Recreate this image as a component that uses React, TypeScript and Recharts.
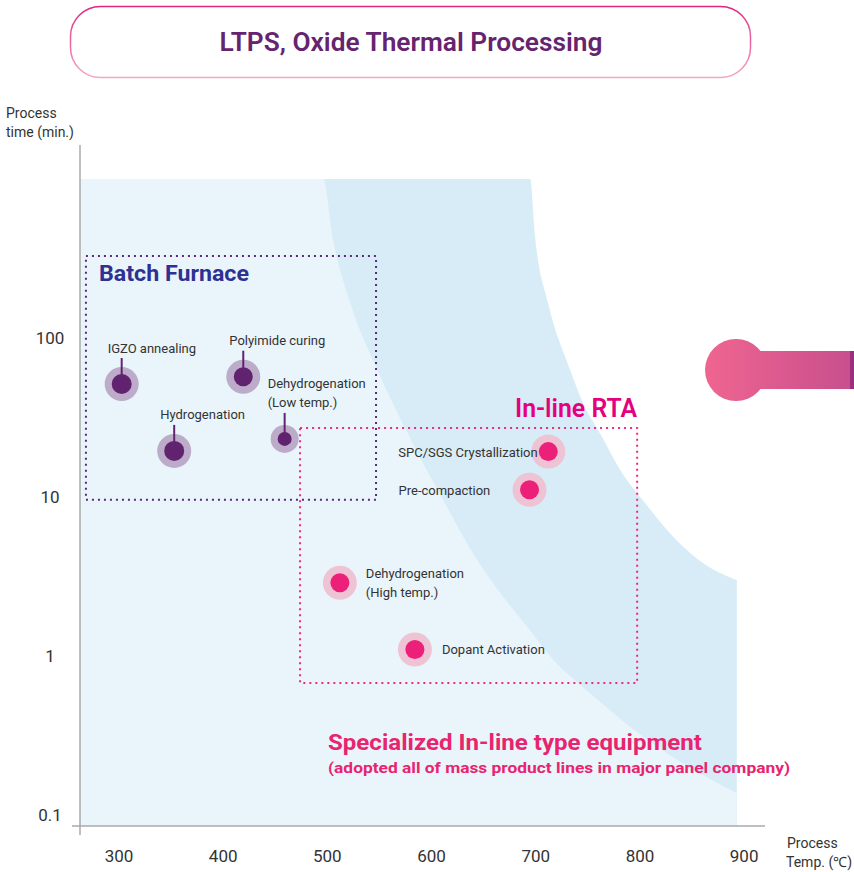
import React from "react";
import { ComposedChart, Area, Scatter, XAxis, YAxis, ReferenceArea } from "recharts";

// axes
const xTicks = [300, 400, 500, 600, 700, 800, 900];
const yTicks = [0.1, 1, 10, 100];
const X_MIN = 262.6;
const X_MAX = 920;
const Y_MIN = 0.0853;
const Y_MAX = 1637;
const AREA_TOP = 1000;

// batch furnace processes (temp in C, time in min)
const batchNames = ["IGZO annealing", "Polyimide curing", "Hydrogenation", "Dehydrogenation\n(Low temp.)"];
const batchTemps = [302.6, 419.3, 353, 459];
const batchTimes = [51.4, 57.1, 19.5, 23.2];

// in-line RTA processes
const rtaNames = ["SPC/SGS Crystallization", "Pre-compaction", "Dehydrogenation\n(High temp.)", "Dopant Activation"];
const rtaTemps = [712, 694, 512, 584];
const rtaTimes = [19.3, 11.1, 2.89, 1.1];

// region edges
const outerEdgeTemps = [694.6, 699.4, 711.8, 733, 745.4, 763.7, 781, 805, 829, 867, 893];
const outerEdgeTimes = [1000, 431, 166, 63, 39, 23.8, 14.8, 9.16, 5.9, 3.6, 3.0];
const innerEdgeTemps = [496, 505, 522, 548, 579, 611, 644, 666, 692, 717, 752, 791, 836, 893];
const innerEdgeTimes = [1000, 431, 166, 63, 23.8, 9.6, 4.0, 2.49, 1.52, 0.944, 0.585, 0.357, 0.222, 0.137];

// boxes
const batchBox = { t1: 268.3, t2: 546.7, m1: 9.6, m2: 328 };
const rtaBox = { t1: 473.8, t2: 797.3, m1: 0.676, m2: 27.2 };

const bandData = [
  { t: X_MIN, v: [Y_MIN, AREA_TOP] },
  ...outerEdgeTemps.map((t, i) => ({ t, v: [Y_MIN, outerEdgeTimes[i]] })),
];
const lowerData = [
  { t: X_MIN, v: [Y_MIN, AREA_TOP] },
  ...innerEdgeTemps.map((t, i) => ({ t, v: [Y_MIN, innerEdgeTimes[i]] })),
];
const batchData = batchNames.map((name, i) => ({ name, t: batchTemps[i], v: batchTimes[i] }));
const rtaData = rtaNames.map((name, i) => ({ name, t: rtaTemps[i], v: rtaTimes[i] }));

const FONT = "Roboto, 'Open Sans', sans-serif";

// label placement for each marker
const markerLayout: Record<string, { dx: number; dy: number; halo: number; dot: number }> = {
  "IGZO annealing": { dx: -14, dy: -36, halo: 17, dot: 10 },
  "Polyimide curing": { dx: -14, dy: -37, halo: 17, dot: 9.5 },
  Hydrogenation: { dx: -14, dy: -37, halo: 17, dot: 10 },
  "Dehydrogenation\n(Low temp.)": { dx: -17, dy: -56, halo: 14, dot: 7 },
  "SPC/SGS Crystallization": { dx: -150, dy: 0, halo: 17, dot: 9.5 },
  "Pre-compaction": { dx: -131, dy: 0, halo: 17, dot: 9.5 },
  "Dehydrogenation\n(High temp.)": { dx: 26, dy: -10, halo: 17, dot: 9.5 },
  "Dopant Activation": { dx: 27, dy: 0, halo: 17, dot: 9.5 },
};

const MarkerLabel = ({ x, y, name }: { x: number; y: number; name: string }) => (
  <text x={x} y={y} fontSize={13} fill="#333" fontFamily={FONT} dominantBaseline="central">
    {name.split("\n").map((line, i) => (
      <tspan key={i} x={x} dy={i === 0 ? 0 : 19}>
        {line}
      </tspan>
    ))}
  </text>
);

const BatchMarker = (props: any) => {
  const { cx, cy, payload } = props;
  const l = markerLayout[payload.name];
  return (
    <g>
      <circle cx={cx} cy={cy} r={l.halo} fill="#bcabc9" />
      <circle cx={cx} cy={cy} r={l.dot} fill="#61236f" />
      <line x1={cx} x2={cx} y1={cy - 26} y2={cy} stroke="#61236f" strokeWidth={2} />
      <MarkerLabel x={cx + l.dx} y={cy + l.dy} name={payload.name} />
    </g>
  );
};

const RtaMarker = (props: any) => {
  const { cx, cy, payload } = props;
  const l = markerLayout[payload.name];
  return (
    <g>
      <circle cx={cx} cy={cy} r={l.halo} fill="#eec4d4" />
      <circle cx={cx} cy={cy} r={l.dot} fill="#ec1f79" />
      <MarkerLabel x={cx + l.dx} y={cy + l.dy} name={payload.name} />
    </g>
  );
};

const YTick = (p: any) => (
  <text x={50} y={p.y} textAnchor="middle" dominantBaseline="central" fontSize={17} fill="#333" fontFamily={FONT}>
    {p.payload.value}
  </text>
);

export default function App() {
  return (
    <div style={{ position: "absolute", left: 0, top: 0, width: 854, height: 872, background: "#fff" }}>
      <ComposedChart width={854} height={872} margin={{ top: 145, right: 89, left: 0, bottom: 0 }}>
        <XAxis
          type="number"
          dataKey="t"
          domain={[X_MIN, X_MAX]}
          allowDataOverflow
          ticks={xTicks}
          interval={0}
          tickLine={false}
          tickSize={0}
          tickMargin={24}
          height={46}
          tick={{ fontSize: 17, fill: "#333", fontFamily: FONT }}
          axisLine={{ stroke: "#aaa", strokeWidth: 1.5 }}
        />
        <YAxis
          type="number"
          dataKey="v"
          scale="log"
          domain={[Y_MIN, Y_MAX]}
          allowDataOverflow
          ticks={yTicks}
          interval={0}
          tickLine={false}
          width={80}
          tick={YTick}
          axisLine={{ stroke: "#aaa", strokeWidth: 1.5 }}
        />
        <Area
          data={bandData}
          dataKey="v"
          type="monotone"
          fill="#d7ecf7"
          fillOpacity={1}
          stroke="none"
          isAnimationActive={false}
        />
        <Area
          data={lowerData}
          dataKey="v"
          type="monotone"
          fill="#e9f5fb"
          fillOpacity={1}
          stroke="none"
          isAnimationActive={false}
        />
        <ReferenceArea
          x1={batchBox.t1}
          x2={batchBox.t2}
          y1={batchBox.m1}
          y2={batchBox.m2}
          fill="none"
          stroke="#5b2a78"
          strokeWidth={2}
          strokeDasharray="2 4"
        />
        <ReferenceArea
          x1={rtaBox.t1}
          x2={rtaBox.t2}
          y1={rtaBox.m1}
          y2={rtaBox.m2}
          fill="none"
          stroke="#ee2a7b"
          strokeWidth={2}
          strokeDasharray="2 4"
        />
        <Scatter data={batchData} dataKey="v" shape={BatchMarker} isAnimationActive={false} />
        <Scatter data={rtaData} dataKey="v" shape={RtaMarker} isAnimationActive={false} />
      </ComposedChart>

      <svg width={854} height={872} style={{ position: "absolute", left: 0, top: 0, pointerEvents: "none" }}>
        <defs>
          <linearGradient id="titleStroke" x1="0" y1="0" x2="0" y2="1">
            <stop offset="0" stopColor="#e0267f" />
            <stop offset="1" stopColor="#f5a6c6" />
          </linearGradient>
          <linearGradient id="pinFill" gradientUnits="userSpaceOnUse" x1={705} y1={0} x2={852} y2={0}>
            <stop offset="0" stopColor="#ef6590" />
            <stop offset="1" stopColor="#c84f8d" />
          </linearGradient>
        </defs>

        <rect x={70.5} y={6.5} width={680} height={71} rx={30} fill="#fff" stroke="url(#titleStroke)" strokeWidth={1.5} />
        <text
          x={411}
          y={42}
          textAnchor="middle"
          dominantBaseline="central"
          fontSize={26}
          fontWeight={600}
          fill="#66246f"
          fontFamily={FONT}
          textLength={383}
          lengthAdjust="spacingAndGlyphs"
        >
          LTPS, Oxide Thermal Processing
        </text>

        <g fill="url(#pinFill)">
          <circle cx={736} cy={370} r={31} />
          <rect x={755} y={351} width={97} height={38} />
        </g>
        <rect x={850} y={351} width={4} height={38} fill="#9c2f7f" />

        <line x1={72} x2={80} y1={826} y2={826} stroke="#aaa" strokeWidth={1.5} />
        <line x1={80} x2={80} y1={826} y2={835} stroke="#aaa" strokeWidth={1.5} />

        <g fontSize={14} fill="#333" fontFamily={FONT} dominantBaseline="central">
          <text x={6} y={113}>Process</text>
          <text x={6} y={132}>time (min.)</text>
          <text x={787} y={843}>Process</text>
          <text x={786} y={862}>Temp. (℃)</text>
        </g>

        <text
          x={99}
          y={273}
          fontSize={22}
          fontWeight={700}
          fill="#2e3192"
          fontFamily={FONT}
          dominantBaseline="central"
          textLength={150}
          lengthAdjust="spacingAndGlyphs"
        >
          Batch Furnace
        </text>
        <text
          x={515}
          y={408}
          fontSize={25}
          fontWeight={600}
          fill="#e4007f"
          fontFamily={FONT}
          dominantBaseline="central"
          textLength={122}
          lengthAdjust="spacingAndGlyphs"
        >
          In-line RTA
        </text>
        <text
          x={328}
          y={742}
          fontSize={22}
          fontWeight={700}
          fill="#e8246f"
          fontFamily={FONT}
          dominantBaseline="central"
          textLength={374}
          lengthAdjust="spacingAndGlyphs"
        >
          Specialized In-line type equipment
        </text>
        <text
          x={328}
          y={768}
          fontSize={15}
          fontWeight={700}
          fill="#e8246f"
          fontFamily={FONT}
          dominantBaseline="central"
          textLength={462}
          lengthAdjust="spacingAndGlyphs"
        >
          (adopted all of mass product lines in major panel company)
        </text>
      </svg>
    </div>
  );
}
